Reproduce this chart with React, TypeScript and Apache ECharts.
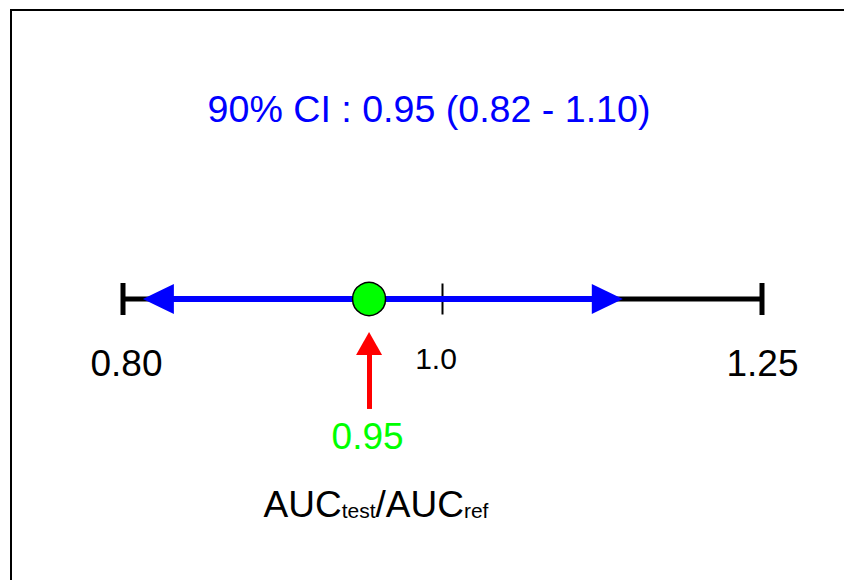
import React, { useEffect, useRef } from 'react';
import * as echarts from 'echarts';

// ---- data ----
const tickValues = [0.8, 1.0, 1.25];
const tickLabels = ['0.80', '1.0', '1.25'];
const ciLevel = 90;
const estimate = 0.95;
const ciLow = 0.82;
const ciHigh = 1.1;
// drawn ends of the blue interval arrow
const arrowEnds = [0.82, 1.122];
// vertical span of the red pointer (hidden y scale, 0 = the axis line)
const pointerSpan = [-0.733, -0.297];
const ratioParts = ['AUC', 'test', '/AUC', 'ref'];

const FONT = '"Liberation Sans", Arial, Helvetica, sans-serif';

const tickStyles = [
  { symbolSize: [5, 32], fontSize: 37, offset: [3.5, 64.5] },
  { symbolSize: [2, 31], fontSize: 30, offset: [-6.5, 59] },
  { symbolSize: [5, 32], fontSize: 37, offset: [0.5, 64.5] },
];

export default function App() {
  const ref = useRef<HTMLDivElement>(null);

  useEffect(() => {
    if (!ref.current) return;
    const chart = echarts.init(ref.current, undefined, { renderer: 'svg' });
    const title = `${ciLevel}% CI : ${estimate.toFixed(2)} (${ciLow.toFixed(2)} - ${ciHigh.toFixed(2)})`;

    chart.setOption({
      animation: false,
      backgroundColor: '#ffffff',
      grid: { left: 123, right: 82, top: 149, height: 300 },
      xAxis: {
        type: 'log',
        min: tickValues[0],
        max: tickValues[tickValues.length - 1],
        axisLine: { show: false },
        axisTick: { show: false },
        axisLabel: { show: false },
        splitLine: { show: false },
      },
      yAxis: {
        type: 'value',
        min: -1,
        max: 1,
        show: false,
        splitLine: { show: false },
      },
      graphic: [
        {
          type: 'rect',
          shape: { x: 11, y: 10, width: 1200, height: 1200 },
          style: { fill: 'none', stroke: '#000000', lineWidth: 2 },
          silent: true,
        },
        {
          type: 'text',
          x: 429,
          y: 108.5,
          style: {
            text: title,
            fill: '#0000ff',
            font: `37.6px ${FONT}`,
            align: 'center',
            verticalAlign: 'middle',
          },
          silent: true,
        },
        {
          type: 'text',
          x: 376,
          y: 523,
          style: {
            text: `{m|${ratioParts[0]}}{s|${ratioParts[1]}}{m|${ratioParts[2]}}{s|${ratioParts[3]}}`,
            align: 'center',
            verticalAlign: 'bottom',
            rich: {
              m: { fontSize: 37, fontFamily: FONT, fill: '#000000', verticalAlign: 'bottom', lineHeight: 40 },
              s: { fontSize: 21, fontFamily: FONT, fill: '#000000', verticalAlign: 'bottom', lineHeight: 40, padding: [0, 0, 2, 0] },
            },
          },
          silent: true,
        },
      ],
      series: [
        {
          type: 'line',
          name: 'scale',
          z: 2,
          silent: true,
          showSymbol: false,
          symbol: 'none',
          data: [
            [tickValues[0], 0],
            [tickValues[tickValues.length - 1], 0],
          ],
          lineStyle: { color: '#000000', width: 5, opacity: 1 },
        },
        {
          type: 'scatter',
          name: 'ticks',
          z: 3,
          silent: true,
          clip: false,
          symbol: 'rect',
          itemStyle: { color: '#000000', opacity: 1 },
          data: tickValues.map((v, i) => ({
            value: [v, 0],
            symbolSize: tickStyles[i].symbolSize,
            itemStyle: { color: '#000000', opacity: 1 },
            label: {
              show: true,
              position: 'inside',
              formatter: tickLabels[i],
              fontSize: tickStyles[i].fontSize,
              fontFamily: FONT,
              color: '#000000',
              opacity: 1,
              offset: tickStyles[i].offset,
            },
          })),
          markLine: {
            silent: true,
            z: 5,
            symbol: ['triangle', 'triangle'],
            symbolSize: [30, 31],
            label: { show: false },
            lineStyle: { color: '#0000ff', width: 6, type: 'solid', opacity: 1 },
            itemStyle: { color: '#0000ff', opacity: 1 },
            data: [[{ coord: [arrowEnds[0], 0] }, { coord: [arrowEnds[1], 0] }]],
          },
        },
        {
          type: 'scatter',
          name: 'estimate',
          z: 10,
          silent: true,
          clip: false,
          symbol: 'circle',
          symbolSize: 33,
          itemStyle: { color: '#00ff00', borderColor: '#000000', borderWidth: 1.5, opacity: 1 },
          data: [[estimate, 0]],
          label: {
            show: true,
            position: 'inside',
            formatter: estimate.toFixed(2),
            fontSize: 37,
            fontFamily: FONT,
            color: '#00ff00',
            opacity: 1,
            offset: [-1.5, 137],
          },
          markLine: {
            silent: true,
            z: 6,
            symbol: ['none', 'triangle'],
            symbolSize: [26, 23],
            label: { show: false },
            lineStyle: { color: '#ff0000', width: 5, type: 'solid', opacity: 1 },
            itemStyle: { color: '#ff0000', opacity: 1 },
            data: [[{ coord: [estimate, pointerSpan[0]] }, { coord: [estimate, pointerSpan[1]] }]],
          },
        },
      ],
    });

    return () => chart.dispose();
  }, []);

  return (
    <div
      ref={ref}
      style={{ position: 'absolute', left: 0, top: 0, width: 844, height: 580, overflow: 'hidden', background: '#ffffff' }}
    />
  );
}
